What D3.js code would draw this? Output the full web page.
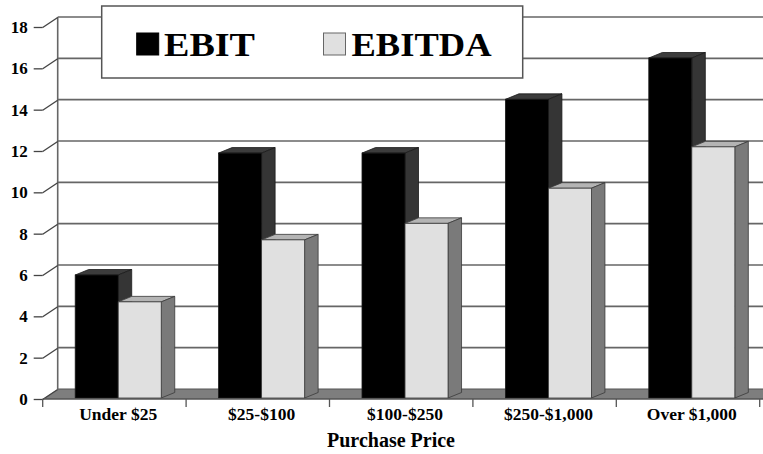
<!DOCTYPE html>
<html>
<head>
<meta charset="utf-8">
<script src="https://cdn.jsdelivr.net/npm/d3@7"></script>
<style>
  html, body { margin: 0; padding: 0; background: #fff; }
  svg { display: block; }
  text { font-family: "Liberation Serif", "Times New Roman", serif; font-weight: bold; fill: #000; }
</style>
</head>
<body>
<svg id="chart" width="763" height="454"></svg>
<script>
// Purchase price buckets and the two multiples plotted for each
const categories = ["Under $25", "$25-$100", "$100-$250", "$250-$1,000", "Over $1,000"];
const ebit = [6.0, 11.9, 11.9, 14.5, 16.5];
const ebitda = [4.7, 7.7, 8.5, 10.2, 12.2];
const yTicks = [0, 2, 4, 6, 8, 10, 12, 14, 16, 18];
const seriesNames = ["EBIT", "EBITDA"];
const xTitle = "Purchase Price";

const W = 763, H = 454;
const svg = d3.select("#chart");

// Front plane of the 3D box and the depth offset to the back wall
const frontLeft = 42.7, frontRight = 759.7;
const floorY = 399, topY = 27;
const wallDX = 15, wallDY = -10;
// Depth of each bar prism
const barDX = 13.5, barDY = -5.5;

const x = d3.scaleBand().domain(categories).range([frontLeft, frontRight]).padding(0);
const y = d3.scaleLinear().domain([0, 18]).range([floorY, topY]);
const bw = x.bandwidth();
const barW = bw * 0.3;
const barOff = bw * 0.2266;

const series = [
  { name: seriesNames[0], values: ebit,   front: "#000000", side: "#353535", top: "#3c3c3c", stroke: "#1a1a1a" },
  { name: seriesNames[1], values: ebitda, front: "#e0e0e0", side: "#7a7a7a", top: "#b4b4b4", stroke: "#3a3a3a" }
];

// Floor band between the front axis and the back wall
svg.append("path")
  .attr("d", `M${frontLeft},${floorY} L${W},${floorY} L${W},${floorY + wallDY} L${frontLeft + wallDX},${floorY + wallDY} Z`)
  .attr("fill", "#7e7e7e");

// Back-wall gridlines
const grid = svg.append("g");
grid.selectAll("line.grid")
  .data(yTicks.filter(d => d > 0))
  .join("line")
  .attr("class", "grid")
  .attr("x1", frontLeft + wallDX).attr("x2", W)
  .attr("y1", d => y(d) + wallDY).attr("y2", d => y(d) + wallDY)
  .attr("stroke", "#666").attr("stroke-width", 1.6);
grid.append("line")
  .attr("x1", frontLeft + wallDX).attr("x2", W)
  .attr("y1", floorY + wallDY).attr("y2", floorY + wallDY)
  .attr("stroke", "#555").attr("stroke-width", 1.2);
// Left edge of the back wall
grid.append("line")
  .attr("x1", frontLeft + wallDX).attr("x2", frontLeft + wallDX)
  .attr("y1", y(18) + wallDY).attr("y2", floorY + wallDY)
  .attr("stroke", "#666").attr("stroke-width", 1.6);

// Y axis: short ticks on the front plane, joined to the wall by a diagonal
const yAxis = d3.axisLeft(y).tickValues(yTicks).tickSize(9).tickPadding(6).tickFormat(d3.format("d"));
const yg = svg.append("g").attr("transform", `translate(${frontLeft},0)`).call(yAxis);
yg.select(".domain").remove();
yg.selectAll(".tick line").attr("stroke", "#444").attr("stroke-width", 1.3);
yg.selectAll(".tick text").attr("font-size", 17).attr("fill", "#000");
yg.selectAll(".tick").append("line")
  .attr("x1", 0).attr("y1", 0).attr("x2", wallDX).attr("y2", wallDY)
  .attr("stroke", "#444").attr("stroke-width", 1.3);

// Bars drawn as prisms: top face, side face, then front face
const bars = svg.append("g");
categories.forEach((c, i) => {
  series.forEach((s, k) => {
    const x0 = x(c) + barOff + k * barW;
    const x1 = x0 + barW;
    const yt = y(s.values[i]);
    const yb = y(0) - 1;
    const g = bars.append("g");
    g.append("path")
      .attr("d", `M${x0},${yt} L${x0 + barDX},${yt + barDY} L${x1 + barDX},${yt + barDY} L${x1},${yt} Z`)
      .attr("fill", s.top).attr("stroke", s.stroke).attr("stroke-width", 0.8).attr("stroke-linejoin", "round");
    g.append("path")
      .attr("d", `M${x1},${yt} L${x1 + barDX},${yt + barDY} L${x1 + barDX},${yb + barDY} L${x1},${yb} Z`)
      .attr("fill", s.side).attr("stroke", s.stroke).attr("stroke-width", 0.8).attr("stroke-linejoin", "round");
    g.append("rect")
      .attr("x", x0).attr("y", yt).attr("width", barW).attr("height", yb - yt)
      .attr("fill", s.front).attr("stroke", s.stroke).attr("stroke-width", 0.8);
  });
});

// X axis line, category separators and labels
svg.append("line")
  .attr("x1", frontLeft).attr("x2", W).attr("y1", floorY).attr("y2", floorY)
  .attr("stroke", "#555").attr("stroke-width", 1.3);
const bounds = categories.map(c => x(c)).concat([x(categories[categories.length - 1]) + bw]);
svg.append("g").selectAll("line")
  .data(bounds)
  .join("line")
  .attr("x1", d => d).attr("x2", d => d)
  .attr("y1", floorY).attr("y2", floorY + 8)
  .attr("stroke", "#555").attr("stroke-width", 1.3);
svg.append("g").selectAll("text")
  .data(categories)
  .join("text")
  .attr("x", c => x(c) + barOff + barW)
  .attr("y", 420)
  .attr("text-anchor", "middle")
  .attr("font-size", 17.5)
  .text(c => c);

svg.append("text")
  .attr("x", 391).attr("y", 446.5)
  .attr("text-anchor", "middle")
  .attr("font-size", 20)
  .text(xTitle);

// Legend box over the top gridlines
const lg = svg.append("g");
lg.append("rect")
  .attr("x", 101.7).attr("y", 6).attr("width", 421).attr("height", 72)
  .attr("fill", "#fff").attr("stroke", "#555").attr("stroke-width", 1.5);
const legendItems = [
  { sx: 136.7, tx: 164, tl: 91 },
  { sx: 323.5, tx: 351.5, tl: 140 }
];
series.forEach((s, k) => {
  const it = legendItems[k];
  lg.append("rect")
    .attr("x", it.sx).attr("y", 33).attr("width", 22).attr("height", 22)
    .attr("fill", s.front).attr("stroke", k === 0 ? "#000" : "#666").attr("stroke-width", 1);
  lg.append("text")
    .attr("x", it.tx).attr("y", 55.5)
    .attr("font-size", 34)
    .attr("textLength", it.tl).attr("lengthAdjust", "spacingAndGlyphs")
    .text(s.name);
});
</script>
</body>
</html>
